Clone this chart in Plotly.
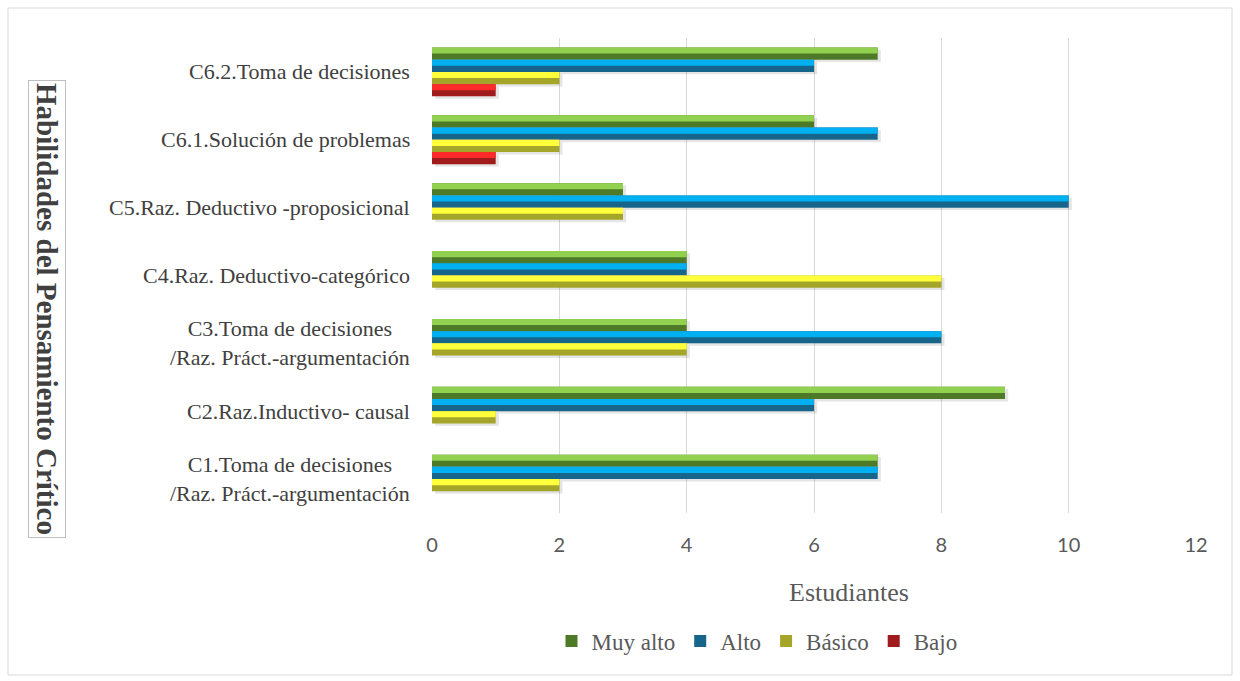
import plotly.graph_objects as go

categories = [
    "C1.Toma de decisiones<br>/Raz. Práct.-argumentación",
    "C2.Raz.Inductivo- causal",
    "C3.Toma de decisiones<br>/Raz. Práct.-argumentación",
    "C4.Raz. Deductivo-categórico",
    "C5.Raz. Deductivo -proposicional",
    "C6.1.Solución de problemas",
    "C6.2.Toma de decisiones",
]
series_names = ["Muy alto", "Alto", "Básico", "Bajo"]
muy_alto = [7, 9, 4, 4, 3, 6, 7]
alto = [7, 6, 8, 4, 10, 7, 6]
basico = [2, 1, 4, 8, 3, 2, 2]
bajo = [0, 0, 0, 0, 0, 1, 1]
x_ticks = [0, 2, 4, 6, 8, 10, 12]

values = [muy_alto, alto, basico, bajo]
light_colors = ["#92D050", "#00B0F0", "#FFFF3C", "#FF2A2A"]
dark_colors = ["#4E7A27", "#17658A", "#A5A52A", "#A01C1C"]
offsets = [0.18, 0.0, -0.18, -0.36]
W = 0.18

SERIF = "'Times New Roman', 'Liberation Serif', serif"

ypos = list(range(len(categories)))
fig = go.Figure()

# soft shadows
for i, vals in enumerate(values):
    fig.add_trace(go.Bar(
        x=vals, y=ypos, orientation="h", base=0.05,
        offset=offsets[i] - 0.035, width=W,
        marker=dict(color="rgba(0,0,0,0.10)", line=dict(width=0)),
        showlegend=False, hoverinfo="skip"))

for i, vals in enumerate(values):
    fig.add_trace(go.Bar(
        x=vals, y=ypos, orientation="h", name=series_names[i],
        offset=offsets[i], width=W,
        marker=dict(color=dark_colors[i], line=dict(width=0)),
        showlegend=True))
    fig.add_trace(go.Bar(
        x=vals, y=ypos, orientation="h", name=series_names[i],
        offset=offsets[i] + W / 2, width=W / 2,
        marker=dict(color=light_colors[i], line=dict(width=0)),
        showlegend=False))

annotations = []
for i, c in enumerate(categories):
    annotations.append(dict(
        x=0, y=i, xref="x", yref="y", text=c, showarrow=False,
        xanchor="right", yanchor="middle", align="center", xshift=-20,
        font=dict(family=SERIF, size=22, color="#404040")))

annotations.append(dict(
    x=(849 - 432) / 764, y=(513 - 592) / 475, xref="paper", yref="paper",
    text="Estudiantes", showarrow=False, xanchor="center", yanchor="middle",
    font=dict(family=SERIF, size=26, color="#595959")))

annotations.append(dict(
    x=(47 - 432) / 764, y=(513 - 309) / 475, xref="paper", yref="paper",
    text="<b>Habilidades del Pensamiento Crítico</b>", showarrow=False,
    textangle=90, xanchor="center", yanchor="middle",
    bordercolor="#BFBFBF", borderwidth=1, borderpad=2,
    font=dict(family=SERIF, size=29, color="#404040")))

fig.update_layout(
    width=1240, height=681,
    margin=dict(l=432, r=44, t=38, b=168),
    barmode="overlay",
    paper_bgcolor="white", plot_bgcolor="white",
    xaxis=dict(range=[0, 12.0], tickvals=x_ticks, showgrid=True,
               gridcolor="#D9D9D9", gridwidth=1, zeroline=False,
               showline=False, ticks="", ticklabelstandoff=18,
               tickfont=dict(family="Lato", size=20, color="#595959")),
    yaxis=dict(range=[-0.5, 6.5], showticklabels=False, showgrid=False,
               zeroline=False, showline=False, fixedrange=True),
    legend=dict(orientation="h", x=(757 - 432) / 764, y=(513 - 641) / 475,
                xanchor="center", yanchor="middle",
                font=dict(family=SERIF, size=23, color="#595959"),
                itemwidth=30, tracegroupgap=0),
    annotations=annotations,
    shapes=[dict(type="rect", xref="paper", yref="paper",
                 x0=(8 - 432) / 764, x1=(1232 - 432) / 764,
                 y0=(513 - 675) / 475, y1=(513 - 8) / 475,
                 line=dict(color="#D9D9D9", width=1), layer="below")],
)

fig.write_html("out.html")
